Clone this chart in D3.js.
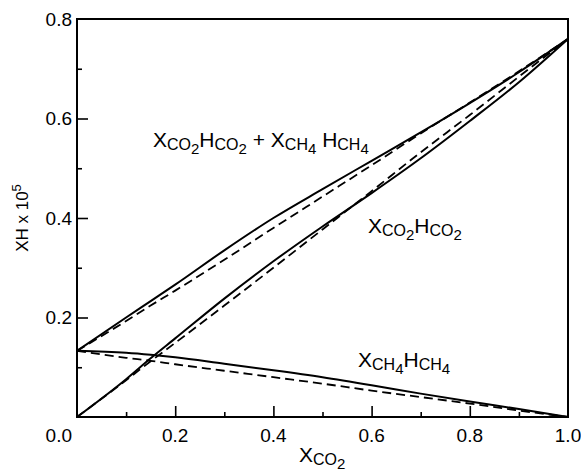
<!DOCTYPE html>
<html>
<head>
<meta charset="utf-8">
<script src="https://cdn.jsdelivr.net/npm/d3@7"></script>
<style>
  html, body { margin: 0; padding: 0; background: #fff; }
  svg { display: block; }
  text { font-family: "Liberation Sans", Arial, Helvetica, sans-serif; fill: #000; }
</style>
</head>
<body>
<svg id="chart" width="581" height="476"></svg>
<script>
// Mole fraction of CO2 in the gas mixture
const xco2 = [0, 0.1, 0.15, 0.2, 0.3, 0.4, 0.5, 0.6, 0.7, 0.8, 0.9, 1.0];

// X·H (×10^5) — solid: actual mixture, dashed: ideal mixing
const sumSolid  = [0.133, 0.200, 0.233, 0.266, 0.335, 0.400, 0.458, 0.515, 0.572, 0.631, 0.693, 0.760];
const sumDashed = [0.133, 0.193, 0.224, 0.254, 0.316, 0.380, 0.443, 0.506, 0.570, 0.632, 0.695, 0.760];
const co2Solid  = [0.000, 0.076, 0.118, 0.158, 0.238, 0.313, 0.383, 0.450, 0.520, 0.595, 0.673, 0.760];
const co2Dashed = [0.000, 0.074, 0.112, 0.149, 0.224, 0.300, 0.377, 0.454, 0.532, 0.607, 0.684, 0.760];
const ch4Solid  = [0.133, 0.129, 0.125, 0.120, 0.107, 0.094, 0.080, 0.064, 0.047, 0.031, 0.016, 0.000];
const ch4Dashed = [0.133, 0.119, 0.113, 0.106, 0.093, 0.080, 0.067, 0.053, 0.040, 0.027, 0.013, 0.000];

const xTickLabels = ["0.2", "0.4", "0.6", "0.8", "1.0"];
const yTickLabels = ["0.2", "0.4", "0.6", "0.8"];

const svg = d3.select("#chart");
const m = { left: 77, right: 568, top: 19, bottom: 417 };

const x = d3.scaleLinear().domain([0, 1]).range([m.left, m.right]);
const y = d3.scaleLinear().domain([0, 0.8]).range([m.bottom, m.top]);

// frame
svg.append("rect")
  .attr("x", m.left).attr("y", m.top)
  .attr("width", m.right - m.left).attr("height", m.bottom - m.top)
  .attr("fill", "none").attr("stroke", "#000").attr("stroke-width", 2);

// inward ticks: major every 0.2, minor every 0.1
const xMajor = d3.range(0.2, 0.95, 0.2), xMinor = d3.range(0.1, 1.0, 0.2);
const yMajor = d3.range(0.2, 0.75, 0.2), yMinor = d3.range(0.1, 0.8, 0.2);

const xAxisG = svg.append("g").attr("transform", `translate(0,${m.bottom})`);
xAxisG.call(d3.axisTop(x).tickValues(xMajor).tickSize(11).tickFormat(""));
xAxisG.append("g").call(d3.axisTop(x).tickValues(xMinor).tickSize(5).tickFormat(""));
xAxisG.selectAll(".domain").remove();
xAxisG.selectAll("line").attr("stroke", "#000").attr("stroke-width", 1.6);

const yAxisG = svg.append("g").attr("transform", `translate(${m.left},0)`);
yAxisG.call(d3.axisRight(y).tickValues(yMajor).tickSize(11).tickFormat(""));
yAxisG.append("g").call(d3.axisRight(y).tickValues(yMinor).tickSize(5).tickFormat(""));
yAxisG.selectAll(".domain").remove();
yAxisG.selectAll("line").attr("stroke", "#000").attr("stroke-width", 1.6);

// tick labels
svg.append("g").selectAll("text").data(xTickLabels).join("text")
  .attr("x", d => x(+d)).attr("y", 442)
  .attr("text-anchor", "middle").attr("font-size", 19)
  .text(d => d);
svg.append("g").selectAll("text").data(yTickLabels).join("text")
  .attr("x", 72).attr("y", d => y(+d)).attr("dy", "0.35em")
  .attr("text-anchor", "end").attr("font-size", 19)
  .text(d => d);
svg.append("text").attr("x", 72).attr("y", 442)
  .attr("text-anchor", "end").attr("font-size", 19).text("0.0");

// curves
const line = d3.line().x((d, i) => x(xco2[i])).y(d => y(d)).curve(d3.curveMonotoneX);
const series = [
  { v: sumSolid,  dash: null },
  { v: sumDashed, dash: "9,5" },
  { v: co2Solid,  dash: null },
  { v: co2Dashed, dash: "9,5" },
  { v: ch4Solid,  dash: null },
  { v: ch4Dashed, dash: "9,5" }
];
svg.append("g").selectAll("path").data(series).join("path")
  .attr("d", d => line(d.v))
  .attr("fill", "none").attr("stroke", "#000")
  .attr("stroke-width", d => d.dash ? 1.8 : 2)
  .attr("stroke-dasharray", d => d.dash);

// text with nested subscripts: [text, size, dy]
function rich(g, px, py, parts) {
  const t = g.append("text").attr("x", px).attr("y", py);
  parts.forEach(([s, size, dy]) => {
    t.append("tspan").attr("font-size", size).attr("dy", dy).text(s);
  });
  return t;
}
const M = 21, S = 16, SS = 15;
const XCO2 = [["X", M, 0], ["CO", S, 3], ["2", SS, 4]];
const HCO2 = [["H", M, -7], ["CO", S, 3], ["2", SS, 4]];
const HCH4 = [["H", M, -7], ["CH", S, 3], ["4", SS, 4]];

rich(svg, 153, 147, [...XCO2, ...HCO2, ["\u00a0+\u00a0", M, -7], ["X", M, 0], ["CH", S, 3], ["4", SS, 4], ["\u00a0", M, -7], ["H", M, 0], ["CH", S, 3], ["4", SS, 4]]);
rich(svg, 368, 233, [...XCO2, ...HCO2]);
rich(svg, 358, 367, [["X", M, 0], ["CH", S, 3], ["4", SS, 4], ...HCH4]);
rich(svg, 299, 462, XCO2);

// y axis title
const yt = svg.append("text").attr("transform", "translate(28,218) rotate(-90)")
  .attr("text-anchor", "middle").attr("font-size", 17);
yt.append("tspan").text("XH x 10");
yt.append("tspan").attr("font-size", 13).attr("dy", -7).text("5");
</script>
</body>
</html>
